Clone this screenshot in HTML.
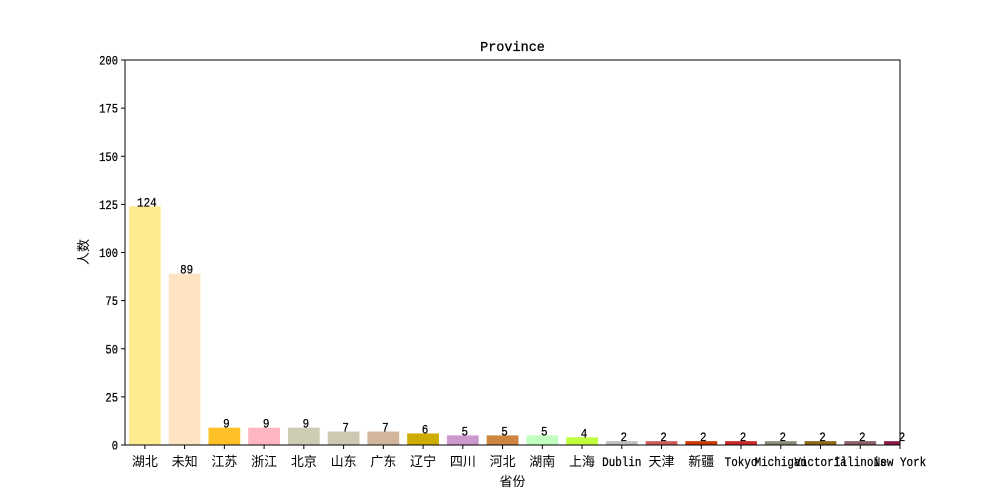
<!DOCTYPE html>
<html><head><meta charset="utf-8"><style>
body{margin:0;background:#fff;}
svg{display:block;font-family:"Liberation Mono","WenQuanYi Zen Hei",monospace;}
</style></head><body>
<svg id="chart" width="1000" height="500"></svg>
<script>
const categories=["湖北","未知","江苏","浙江","北京","山东","广东","辽宁","四川","河北","湖南","上海","Dublin","天津","新疆","Tokyo","Michigan","Victoria","Illinois","New York"];
const values=[124,89,9,9,9,7,7,6,5,5,5,4,2,2,2,2,2,2,2,2];
const colors=["#ffeb8f","#ffe4c4","#ffc125","#ffb6c1","#cdcdb4","#cdc8b1","#d2b69c","#cdad00","#cc99cc","#cd8540","#c1ffc1","#c0ff3e","#c0c0c0","#cd5c5c","#cd3700","#cd2626","#8b8b7a","#8b6914","#8b5f65","#8b1a4a"];
const yTicks=[0,25,50,75,100,125,150,175,200];
const L=125,R=900,T=60,B=445,ns="http://www.w3.org/2000/svg";
const svg=document.getElementById('chart');
const xs=i=>L+(i+0.5)*(R-L)/19.5;
const ys=v=>B-(v/200)*(B-T);
const bw=0.8*(R-L)/19.5;
function mk(t,a,txt){const e=document.createElementNS(ns,t);for(const k in a)e.setAttribute(k,a[k]);if(txt!==undefined)e.textContent=txt;svg.appendChild(e);return e;}
const cp=document.createElementNS(ns,'clipPath');cp.setAttribute('id','clip');
const cr=document.createElementNS(ns,'rect');cr.setAttribute('x',L);cr.setAttribute('y',T);cr.setAttribute('width',R-L);cr.setAttribute('height',B-T);cp.appendChild(cr);svg.appendChild(cp);
values.forEach((v,i)=>{
 const r=mk('rect',{x:xs(i)-bw/2,y:ys(v),width:bw,height:B-ys(v),fill:colors[i],'clip-path':'url(#clip)'});
 
 
 const t=mk('text',{x:0,y:0,transform:`translate(${xs(i)+2},${ys(v)}) scale(0.84,1)`,'text-anchor':'middle','font-size':13,'stroke':'#000','stroke-width':0.25},String(v));
 
 
 const tk=mk('line',{x1:xs(i),x2:xs(i),y1:B,y2:B+4,stroke:'#000'});
 
 
 const latin=/^[\x00-\x7f]+$/.test(categories[i]);
 const tl=mk('text',{x:0,y:0,transform:`translate(${xs(i)},${B+21}) scale(${latin?0.84:1},1)`,'text-anchor':'middle','font-size':13,'stroke':'#000','stroke-width':latin?0.25:0},categories[i]);
 
 
});
yTicks.forEach(v=>{
 const tk=mk('line',{x1:L-4,x2:L,y1:ys(v),y2:ys(v),stroke:'#000'});
 
 
 const tl=mk('text',{x:0,y:0,transform:`translate(${L-7},${ys(v)+4.5}) scale(0.84,1)`,'text-anchor':'end','font-size':12.5,'stroke':'#000','stroke-width':0.25},String(v));
 
 
});
const f=mk('rect',{x:L,y:T,width:R-L,height:B-T,fill:'none',stroke:'#000'});


const ti=mk('text',{x:(L+R)/2,y:T-9,'text-anchor':'middle','font-size':13.5,'stroke':'#000','stroke-width':0.3},'Province');


const xt=mk('text',{x:(L+R)/2,y:486,'text-anchor':'middle','font-size':13},'省份');


const yt=mk('text',{x:0,y:0,'text-anchor':'middle','font-size':13,transform:'translate(88,252) rotate(-90)'},'人数');


</script>
</body></html>
